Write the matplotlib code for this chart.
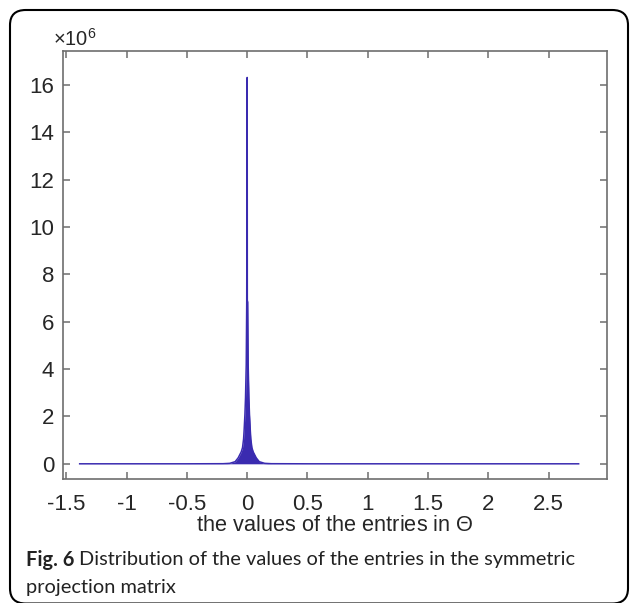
import matplotlib
matplotlib.use('Agg')
import matplotlib.pyplot as plt
from matplotlib.patches import FancyBboxPatch

plt.rcParams['font.family'] = ['Liberation Sans', 'DejaVu Sans']
plt.rcParams['mathtext.fontset'] = 'custom'
plt.rcParams['mathtext.rm'] = 'Liberation Sans'
plt.rcParams['mathtext.it'] = 'Liberation Sans:italic'

# entries of Theta (bin positions) and how many fall there (in units of 1e6)
entry_vals = [-1.39, -0.5, -0.2, -0.145, -0.1, -0.075, -0.05, -0.039, -0.03, -0.026,
              -0.019, -0.014, -0.008, -0.004, -0.001, 0.0, 0.001, 0.004, 0.008, 0.014,
              0.019, 0.026, 0.03, 0.039, 0.05, 0.075, 0.1, 0.145, 0.2, 0.5, 1.5, 2.75]
counts_m = [0, 0, 0.005, 0.02, 0.09, 0.25, 0.5, 0.68, 1.05, 1.38,
            2.08, 2.79, 4.2, 6.84, 15.35, 16.32, 6.9, 6.84, 4.2, 2.79,
            2.08, 1.38, 1.05, 0.68, 0.5, 0.25, 0.09, 0.02, 0.005, 0, 0, 0]

yticks = [0, 2, 4, 6, 8, 10, 12, 14, 16]
xticks = [-1.5, -1, -0.5, 0, 0.5, 1, 1.5, 2, 2.5]
xtick_lbls = ['-1.5', '-1', '-0.5', '0', '0.5', '1', '1.5', '2', '2.5']

col = '#3a2bb0'
grey = '#6e6e6e'

fig = plt.figure(figsize=(6.3, 6.03), dpi=100)
ax = fig.add_axes([0.0995, 0.2061, 0.8643, 0.7098])

ax.fill_between(entry_vals, counts_m, 0, color=col, lw=0)
ax.plot(entry_vals, counts_m, color=col, lw=1.1)

ax.set_xlim(-1.531, 2.987)
ax.set_ylim(-0.63, 17.45)
ax.set_xticks(xticks)
ax.set_xticklabels(xtick_lbls)
ax.set_yticks(yticks)
for s in ax.spines.values():
    s.set_color(grey)
    s.set_linewidth(1.2)
ax.tick_params(direction='in', length=5, width=1.1, color=grey, labelsize=16,
               labelcolor='#262626', top=True, right=True)
ax.tick_params(axis='x', pad=11)
ax.tick_params(axis='y', pad=6)
ax.set_xlabel(r'the values of the entries in $\Theta$', fontsize=15.7, color='#262626', labelpad=0)

fig.text(53 / 630, 1 - 46 / 603, r'$\times10^{6}$', fontsize=14.5, color='#262626', ha='left', va='baseline')

# rounded frame, bottom edge sits on the picture's lower border
frame = FancyBboxPatch((10 / 630, -0.5 / 603), 618 / 630, 593.5 / 603,
                       boxstyle='round,pad=0,rounding_size=0.025',
                       transform=fig.transFigure, fill=False, ec='black', lw=1.5)
fig.patches.append(frame)

# caption
cap_font = 'Lato'
r = fig.canvas.get_renderer()
t1 = fig.text(26 / 630, 1 - 560 / 603, 'Fig. 6', fontsize=14.4, fontweight='bold',
              family=cap_font, color='#222222', va='center')
bb = t1.get_window_extent(renderer=r)
fig.text((bb.x1 + 5) / 630, 1 - 560 / 603, 'Distribution of the values of the entries in the symmetric',
         fontsize=14.4, family=cap_font, color='#222222', va='center')
fig.text(26 / 630, 1 - 588 / 603, 'projection matrix', fontsize=14.4, family=cap_font,
         color='#222222', va='center')

fig.savefig('out.png', dpi=100)
